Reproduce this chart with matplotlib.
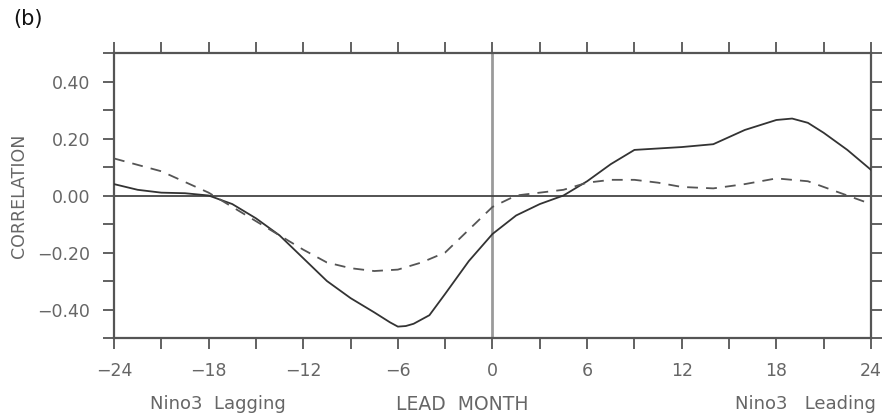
import matplotlib
matplotlib.use("Agg")
import matplotlib.pyplot as plt
from matplotlib.ticker import MultipleLocator, FixedLocator

# lead month (negative: Nino3 lagging, positive: Nino3 leading)
months_solid = [-24, -22.5, -21, -19.5, -18, -16.5, -15, -13.5, -12, -10.5, -9, -7.5,
                -6.5, -6, -5.5, -5, -4, -3, -1.5, 0, 1.5, 3, 4.5, 6, 7.5, 9, 10.5, 12,
                14, 16, 18, 19, 20, 21, 22.5, 24]
corr_solid = [0.04, 0.02, 0.01, 0.008, 0.00, -0.03, -0.08, -0.14, -0.22, -0.30, -0.36,
              -0.41, -0.445, -0.46, -0.458, -0.45, -0.42, -0.345, -0.23, -0.135, -0.07,
              -0.03, 0.00, 0.05, 0.11, 0.16, 0.165, 0.17, 0.18, 0.23, 0.265, 0.27,
              0.255, 0.22, 0.16, 0.09]

months_dash = [-24, -21, -18, -15, -12, -10.5, -9, -7.5, -6, -4.5, -3, -1.5, 0,
               1.5, 3, 4.5, 6, 7.5, 9, 10.5, 12, 14, 16, 18, 20, 22, 24]
corr_dash = [0.13, 0.085, 0.01, -0.09, -0.19, -0.235, -0.255, -0.265, -0.26, -0.235,
             -0.20, -0.12, -0.04, 0.00, 0.01, 0.02, 0.045, 0.055, 0.055, 0.045, 0.03,
             0.025, 0.04, 0.06, 0.05, 0.01, -0.03]

x_ticks = [-24, -18, -12, -6, 0, 6, 12, 18, 24]
x_ticklabels = ["\u221224", "\u221218", "\u221212", "\u22126", "0", "6", "12", "18", "24"]
y_ticks = [-0.4, -0.2, 0.0, 0.2, 0.4]
y_ticklabels = ["\u22120.40", "\u22120.20", "0.00", "0.20", "0.40"]

AX_COL = "#555555"
TXT_COL = "#666666"

plt.rcParams["font.family"] = ["DejaVu Sans"]

fig = plt.figure(figsize=(8.83, 4.19), dpi=100)
ax = fig.add_axes([0.1291, 0.1933, 0.8573, 0.6802])

ax.axvline(0, color="#9a9a9a", lw=2.0, zorder=1)
ax.axhline(0, color="#444444", lw=1.3, zorder=1)

ax.plot(months_solid, corr_solid, color="#333333", lw=1.3, zorder=3)
ax.plot(months_dash, corr_dash, color="#555555", lw=1.3, dashes=(6, 4.5), zorder=3)

ax.set_xlim(-24, 24)
ax.set_ylim(-0.5, 0.5)

ax.xaxis.set_major_locator(FixedLocator(x_ticks))
ax.xaxis.set_minor_locator(MultipleLocator(3))
ax.yaxis.set_major_locator(FixedLocator(y_ticks))
ax.yaxis.set_minor_locator(MultipleLocator(0.1))
ax.set_xticklabels(x_ticklabels)
ax.set_yticklabels(y_ticklabels)

ax.tick_params(which="both", direction="out", color=AX_COL, width=1.3, length=8,
               top=True, right=True, labelsize=12.5, labelcolor=TXT_COL)
ax.tick_params(which="major", pad=9)
for sp in ax.spines.values():
    sp.set_color(AX_COL)
    sp.set_linewidth(1.6)

ax.set_ylabel("CORRELATION", color=TXT_COL, fontsize=12.5, va="center")
ax.yaxis.set_label_coords(-0.126, 0.5)

fig.text(0.015, 0.955, "(b)", fontsize=15, color="#111111", va="center", ha="left")
fig.text(0.247, 0.035, "Nino3  Lagging", fontsize=13, color=TXT_COL, ha="center", va="center")
fig.text(0.524, 0.035, "LEAD  MONTH", fontsize=13.5, color=TXT_COL, ha="center", va="center")
fig.text(0.992, 0.035, "Nino3   Leading", fontsize=13, color=TXT_COL, ha="right", va="center")

fig.savefig("out.png", dpi=100)
